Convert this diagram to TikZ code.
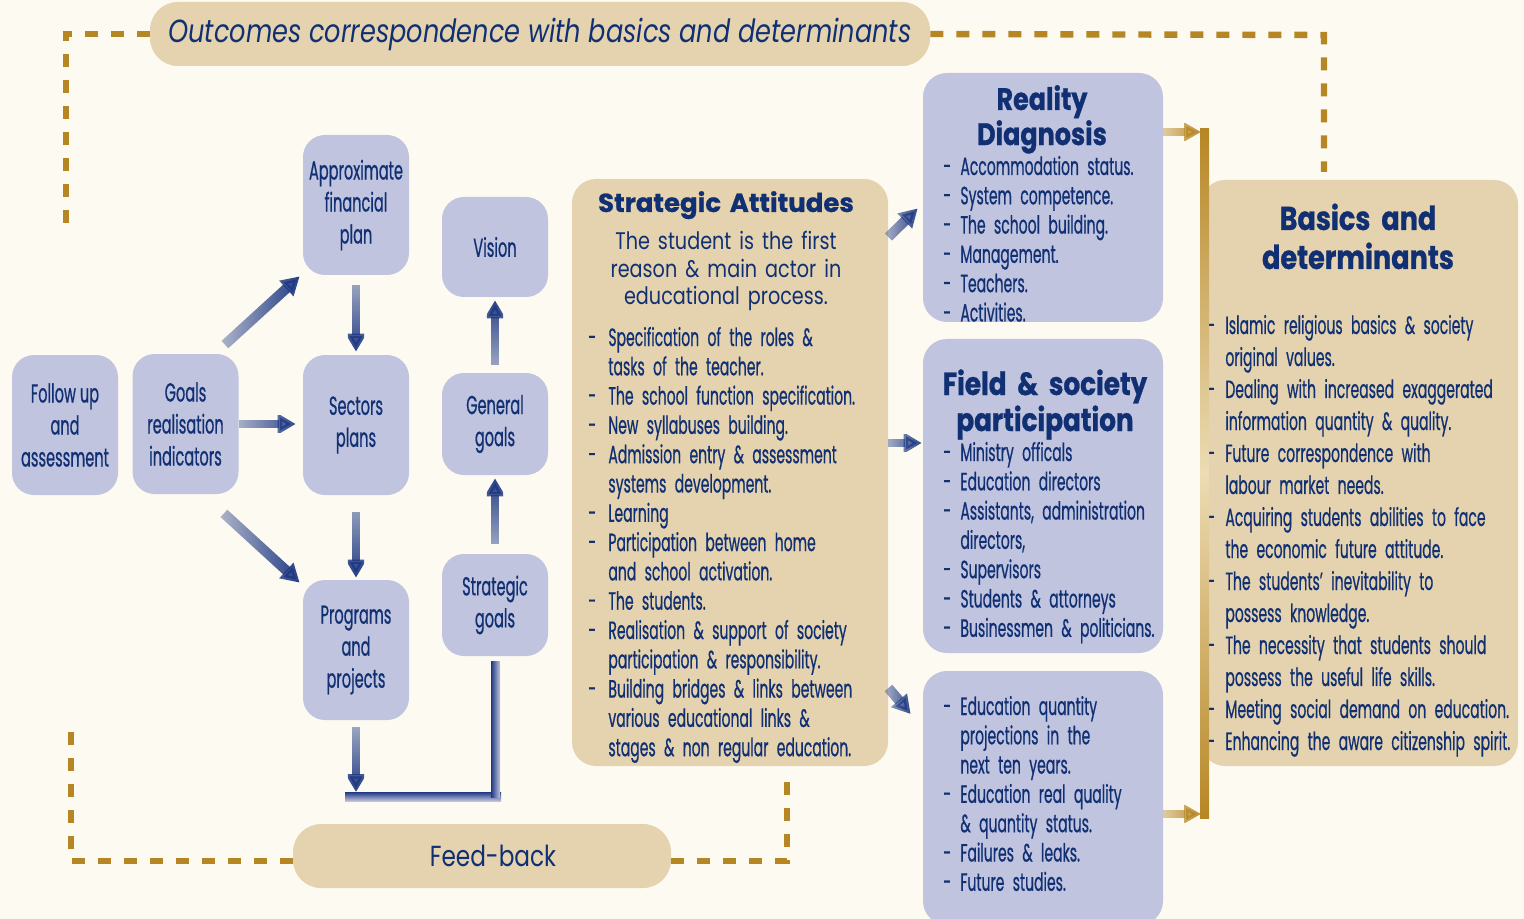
\documentclass[tikz,border=0pt]{standalone}
\usepackage{fontspec}
\usepackage{tikz}
\usetikzlibrary{arrows.meta,calc,fadings}

\setmainfont{Poppins}
\newfontfamily\labelfont[FakeStretch=0.56,FakeBold=0.6]{Poppins}
\newfontfamily\bookfont[FakeStretch=0.8]{Poppins}
\newfontfamily\widehead[FakeBold=0.8]{Poppins}
\newfontfamily\narrowhead[FakeStretch=0.82,FakeBold=0.8]{Poppins}

\definecolor{bgcream}{RGB}{253,250,242}
\definecolor{lavfill}{RGB}{193,196,222}
\definecolor{tanfill}{RGB}{228,211,174}
\definecolor{inknavy}{RGB}{16,48,115}
\definecolor{arrownavy}{RGB}{30,56,130}
\definecolor{golddash}{RGB}{182,134,36}
\definecolor{goldpale}{RGB}{236,220,180}

\tikzfading[name=tailfade, left color=transparent!65, right color=transparent!0]
\tikzfading[name=tailfadeup, top color=transparent!0, bottom color=transparent!65]
\tikzfading[name=tailfadedown, top color=transparent!65, bottom color=transparent!0]

\newlength\dashgap
\newcommand{\bul}{\makebox[\dashgap][l]{-}}
\newcommand{\cnt}{\hspace*{\dashgap}}
\newcommand{\tightspace}{\setlength{\spaceskip}{2pt plus 1pt}}

\begin{document}
\begin{tikzpicture}[x=0.5pt,y=-0.5pt,
		smallbox/.style={fill=lavfill, rounded corners=11pt, minimum width=53pt, inner sep=0pt, align=center, text=inknavy, font=\labelfont\fontsize{13}{16}\selectfont\tightspace},
		bigbox/.style={rounded corners=12pt, minimum width=120pt, inner sep=0pt},
		listtext/.style={anchor=base west, inner sep=0pt, text width=150pt, align=left, text=inknavy, font=\labelfont\fontsize{12.5}{14.65}\selectfont\tightspace},
		headtext/.style={anchor=base, inner sep=0pt, text width=160pt, align=center, text=inknavy},
		navyarrow/.style={arrownavy, line width=4pt, -{Triangle[length=9pt,width=10pt]}},
		goldarrow/.style={golddash, line width=4pt, -{Triangle[length=8.5pt,width=9pt]}, path fading=tailfade},
		dashline/.style={golddash, line width=3.2pt, dash pattern=on 6.5pt off 6.5pt}]
		%%%%% START %%%%%
		
		\fill[bgcream] (0,0) rectangle (1524,919);
		\useasboundingbox (0,0) rectangle (1524,919);
		
		\node[bigbox, fill=tanfill, minimum width=390pt, minimum height=32pt, rounded corners=14pt, text=inknavy, font=\bookfont\itshape\fontsize{16}{18}\selectfont] (title) at (540,34) {Outcomes correspondence with basics and determinants};
		\node[bigbox, fill=tanfill, minimum width=189pt, minimum height=32pt, rounded corners=14pt, text=inknavy, font=\bookfont\fontsize{14.5}{18}\selectfont] (feedback) at (482,856) {\hspace*{11pt}Feed-back};
		
		\draw[dashline] (title.west) -- (66,34) -- (66,232);
		\draw[dashline] (title.east) -- (1324,35) -- (1324,172);
		\draw[dashline] ($(feedback.west)+(0,5)$) -- (71,861) -- (71,723);
		\draw[dashline] ($(feedback.east)+(0,5)$) -- (787,861) -- (787,772);
		
		% left column
		\node[smallbox, minimum height=70pt] (follow) at (65,425) {Follow up\\and\\assessment};
		\node[smallbox, minimum height=70pt] (goals) at (185.5,424) {Goals\\realisation\\indicators};
		\node[smallbox, minimum height=70pt] (approx) at (356,205) {Approximate\\financial\\plan};
		\node[smallbox, minimum height=70pt] (sectors) at (356,425) {Sectors\\plans};
		\node[smallbox, minimum height=70pt] (programs) at (356,650) {Programs\\and\\projects};
		\node[smallbox, minimum height=50pt] (vision) at (495,247) {Vision};
		\node[smallbox, minimum height=51pt] (general) at (495,424) {General\\goals};
		\node[smallbox, minimum height=51pt] (strategic) at (495,605) {Strategic\\goals};
		
		\draw[navyarrow, line width=5pt, path fading=tailfade] ($(goals.north east)+(-14,-9)$) -- ($(approx.south west)+(-3,1)$);
		\draw[navyarrow, path fading=tailfade, shorten >=3.5pt] (goals.east) -- (goals.east -| sectors.west);
		\draw[navyarrow, line width=5pt, path fading=tailfade] ($(goals.south east)+(-15,19)$) -- ($(programs.north west)+(-3,3)$);
		\draw[navyarrow, path fading=tailfadedown, shorten <=5pt, shorten >=1.5pt] (approx.south) -- (sectors.north);
		\draw[navyarrow, path fading=tailfadedown, shorten <=8.5pt, shorten >=1pt] (sectors.south) -- (programs.north);
		\coordinate (fbarrow) at (356,792);
		\draw[navyarrow, path fading=tailfadedown, shorten <=3.5pt] (programs.south) -- (fbarrow);
		\draw[navyarrow, path fading=tailfadeup, shorten <=5pt, shorten >=1.5pt] (strategic.north) -- (general.south);
		\draw[navyarrow, path fading=tailfadeup, shorten <=4pt, shorten >=1.5pt] (general.north) -- (vision.south);
		
		\shade[top color=arrownavy, bottom color=lavfill] (345,792) rectangle (501,801);
		\shade[left color=arrownavy, right color=lavfill] (491,661) rectangle (500,797);
		
		% strategic attitudes
		\node[bigbox, fill=tanfill, minimum width=158pt, minimum height=293.5pt] (attitudes) at (730,472.5) {};
		\node[headtext, font=\widehead\bfseries\fontsize{13}{15}\selectfont] (attitudeshead) at (726,212) {Strategic Attitudes};
		\node[headtext, font=\bookfont\fontsize{12}{13.65}\selectfont] (attitudeslead) at (726,250) {The student is the first\\reason \& main actor in\\educational process.};
		\node[listtext] (attitudeslist) at (588,346) {\setlength\dashgap{10pt}%
			\bul Specification of the roles \&\\
			\cnt tasks of the teacher.\\
			\bul The school function specification.\\
			\bul New syllabuses building.\\
			\bul Admission entry \& assessment\\
			\cnt systems development.\\
			\bul Learning\\
			\bul Participation between home\\
			\cnt and school activation.\\
			\bul The students.\\
			\bul Realisation \& support of society\\
			\cnt participation \& responsibility.\\
			\bul Building bridges \& links between\\
			\cnt various educational links \&\\
			\cnt stages \& non regular education.};
		
		% middle column
		\node[bigbox, fill=lavfill, minimum height=124.5pt] (reality) at (1043,197.5) {};
		\node[headtext, font=\narrowhead\bfseries\fontsize{15.5}{13}\selectfont] (realityhead) at (1042,110) {Reality\\Diagnosis};
		\node[listtext] (realitylist) at (943,175) {\setlength\dashgap{8.5pt}%
			\bul Accommodation status.\\
			\bul System competence.\\
			\bul The school building.\\
			\bul Management.\\
			\bul Teachers.\\
			\bul Activities.};
		
		\node[bigbox, fill=lavfill, minimum height=157pt] (field) at (1043,496) {};
		\node[headtext, font=\narrowhead\bfseries\fontsize{16}{15.5}\selectfont] (fieldhead) at (1045,395) {Field \& society\\participation};
		\node[listtext] (fieldlist) at (943,461) {\setlength\dashgap{8.5pt}%
			\bul Ministry officals\\
			\bul Education directors\\
			\bul Assistants, administration\\
			\cnt directors,\\
			\bul Supervisors\\
			\bul Students \& attorneys\\
			\bul Businessmen \& politicians.};
		
		\node[bigbox, fill=lavfill, minimum height=127pt] (projections) at (1043,798) {};
		\node[listtext] (projectionslist) at (943,715) {\setlength\dashgap{8.5pt}%
			\bul Education quantity\\
			\cnt projections in the\\
			\cnt next ten years.\\
			\bul Education real quality\\
			\cnt \& quantity status.\\
			\bul Failures \& leaks.\\
			\bul Future studies.};
		
		\draw[navyarrow, line width=5pt, path fading=tailfade] (attitudes.east |- 0,237) -- ($(reality.west)+(-5,11)$);
		\draw[navyarrow, path fading=tailfade, shorten >=0.5pt] (attitudes.east |- 0,443) -- (field.west |- 0,443);
		\draw[navyarrow, line width=5pt, path fading=tailfade] (attitudes.east |- 0,688) -- ($(projections.west)+(-12,-84)$);
		
		% basics and determinants
		\node[bigbox, fill=tanfill, minimum width=158.5pt, minimum height=293pt] (basics) at (1359.5,473) {};
		\node[headtext, font=\narrowhead\bfseries\fontsize{16.5}{19.5}\selectfont] (basicshead) at (1358,230) {Basics and\\determinants};
		\node[listtext, text width=175pt, font=\labelfont\fontsize{12.5}{16}\selectfont\tightspace] (basicslist) at (1207,334) {\setlength\dashgap{9pt}%
			\bul Islamic religious basics \& society\\
			\cnt original values.\\
			\bul Dealing with increased exaggerated\\
			\cnt information quantity \& quality.\\
			\bul Future correspondence with\\
			\cnt labour market needs.\\
			\bul Acquiring students abilities to face\\
			\cnt the economic future attitude.\\
			\bul The students’ inevitability to\\
			\cnt possess knowledge.\\
			\bul The necessity that students should\\
			\cnt possess the useful life skills.\\
			\bul Meeting social demand on education.\\
			\bul Enhancing the aware citizenship spirit.};
		
		\coordinate (goldtop) at (1201,132);
		\coordinate (goldbottom) at (1201,814);
		\shade[top color=golddash, bottom color=golddash, middle color=goldpale] (1200,129) rectangle (1209,818);
		\draw[goldarrow] (reality.east |- goldtop) -- (goldtop);
		\draw[goldarrow] (projections.east |- goldbottom) -- (goldbottom);
		
		%%%%% END %%%%%
	\end{tikzpicture}
\end{document}
